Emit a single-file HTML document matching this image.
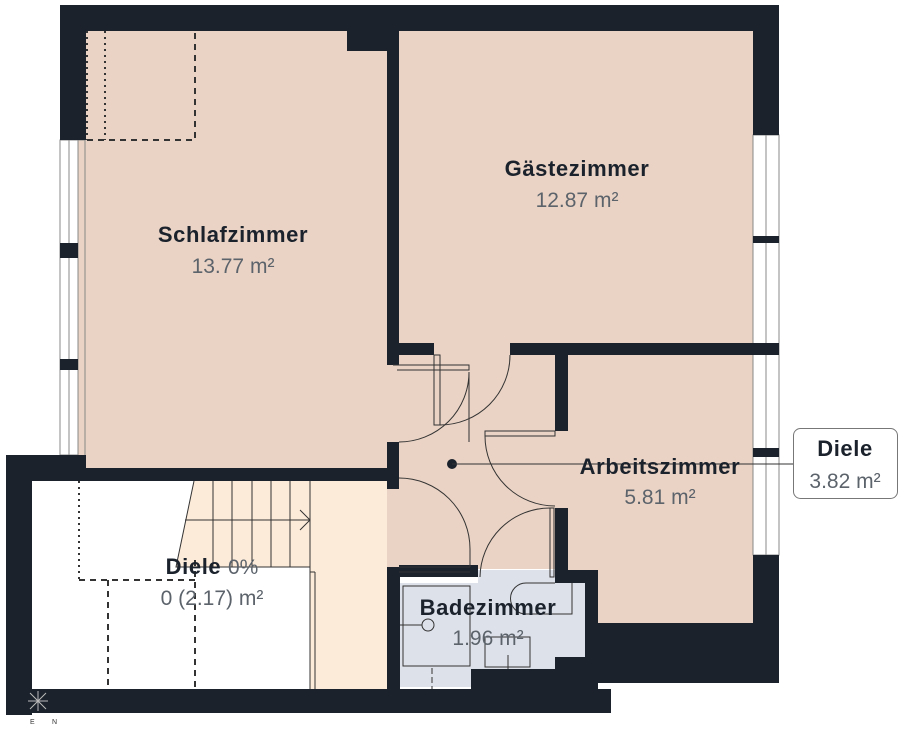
<!DOCTYPE html>
<html><head><meta charset="utf-8"><style>
html,body{margin:0;padding:0;background:#fff;}
svg{display:block}
.b{font-family:"Liberation Sans",sans-serif;font-weight:bold;font-size:22px;letter-spacing:0.6px;fill:#1b222c}
.n{font-family:"Liberation Sans",sans-serif;font-size:21px;fill:#5c636b}
</style></head><body>
<svg width="900" height="730" viewBox="0 0 900 730" xmlns="http://www.w3.org/2000/svg">
<!-- floors -->
<rect x="85" y="31" width="302" height="437" fill="#ead3c5"/>
<rect x="399" y="31" width="354" height="312" fill="#ead3c5"/>
<rect x="387" y="343" width="170" height="226" fill="#ead3c5"/>
<rect x="555" y="355" width="198" height="268" fill="#ead3c5"/>
<rect x="32" y="481" width="355" height="208" fill="#fff"/>
<rect x="310" y="481" width="77" height="208" fill="#fdebd9"/>
<polygon points="194,481 310,481 310,567 176,567" fill="#fdebd9"/>
<!-- bath -->
<rect x="478" y="570" width="77" height="99" fill="#dde1ea"/>
<rect x="400" y="583" width="80" height="104" fill="#dde1ea"/>
<rect x="555" y="583" width="30" height="74" fill="#dde1ea"/>
<!-- windows -->
<g fill="#fff" stroke="#888" stroke-width="1">
<rect x="60" y="140" width="9" height="315"/><rect x="69" y="140" width="9" height="315"/>
<rect x="753" y="135" width="13" height="420"/><rect x="766" y="135" width="13" height="420"/>
</g>
<rect x="78" y="140" width="7" height="325" fill="#ead3c5" stroke="#888" stroke-width="1"/>
<g fill="#1b222c">
<rect x="60" y="243" width="18" height="15"/><rect x="60" y="359" width="18" height="11"/>
<rect x="753" y="236" width="26" height="7"/><rect x="753" y="448" width="26" height="9"/>
<!-- walls -->
<rect x="60" y="5" width="719" height="26"/>
<rect x="60" y="5" width="26" height="135"/>
<rect x="753" y="5" width="26" height="130"/>
<rect x="347" y="31" width="40" height="20"/>
<rect x="387" y="31" width="12" height="334"/>
<rect x="387" y="442" width="12" height="47"/>
<rect x="387" y="567" width="13" height="122"/>
<rect x="399" y="343" width="35" height="12"/>
<rect x="510" y="343" width="269" height="12"/>
<rect x="555" y="355" width="13" height="76"/>
<rect x="555" y="508" width="13" height="62"/>
<rect x="555" y="570" width="43" height="13"/>
<rect x="585" y="570" width="13" height="117"/>
<rect x="598" y="623" width="181" height="60"/>
<rect x="753" y="555" width="26" height="70"/>
<rect x="399" y="565" width="79" height="12"/>
<rect x="6" y="455" width="26" height="260"/>
<rect x="6" y="455" width="80" height="26"/>
<rect x="85" y="468" width="314" height="13"/>
<rect x="6" y="689" width="605" height="24"/>
<rect x="471" y="669" width="127" height="20"/>
<rect x="555" y="657" width="43" height="14"/>
</g>
<!-- dashed areas -->
<g fill="none" stroke="#333" stroke-width="2">
<path d="M105 31V140M87 31V140" stroke-dasharray="2,4"/>
<path d="M87 140H195V31" stroke-dasharray="6,5"/>
<path d="M79 481V580" stroke-dasharray="2,4"/>
<path d="M79 580H195M108 580V689M195 560V689" stroke-dasharray="6,5"/>
</g>
<!-- stairs -->
<g stroke="#333" stroke-width="1" fill="none">
<path d="M194 481L176 567H310V689M315 572V689M310 572H315"/>
<path d="M213 481V567M232 481V567M252 481V567M271 481V567M290 481V567M310 481V567"/>
<path d="M185 520H310M300 510L310 520L300 530"/>
</g>
<!-- doors -->
<g stroke="#333" stroke-width="1" fill="none">
<path d="M399 442A70 70 0 0 0 469 372V442"/>
<path d="M393 365H469V370H397"/>
<rect x="434" y="355" width="6" height="70"/>
<path d="M510 355A70 70 0 0 1 440 425"/>
<rect x="485" y="431" width="70" height="5"/>
<path d="M485 436A70 70 0 0 0 555 506"/>
<path d="M399 478A71 71 0 0 1 470 549V567"/>
<path d="M399 567H470M399 572H470"/>
<path d="M480 577A70 70 0 0 1 550 508"/>
<rect x="550" y="508" width="4" height="69"/>
<!-- bath fixtures -->
<rect x="403" y="586" width="67" height="80"/>
<path d="M400 625H422"/><circle cx="428" cy="625" r="6"/>
<path d="M555 583H526A15 15 0 0 0 526 614H572V583"/>
<rect x="485" y="637" width="45" height="30"/><path d="M508 655V669"/>
<path d="M432 668V689" stroke-dasharray="6,3"/>
</g>
<!-- callout line -->
<circle cx="452" cy="464" r="5" fill="#1b222c"/>
<path d="M452 464H793" stroke="#333" stroke-width="1"/>
<rect x="793.5" y="428.5" width="104" height="70" rx="7" fill="#fff" stroke="#777"/>
<!-- labels -->
<text class="b" x="233" y="242" text-anchor="middle">Schlafzimmer</text>
<text class="n" x="233" y="273" text-anchor="middle">13.77 m²</text>
<text class="b" x="577" y="176" text-anchor="middle">Gästezimmer</text>
<text class="n" x="577" y="207" text-anchor="middle">12.87 m²</text>
<text class="b" x="660" y="474" text-anchor="middle">Arbeitszimmer</text>
<text class="n" x="660" y="504" text-anchor="middle">5.81 m²</text>
<text x="212" y="574" text-anchor="middle"><tspan class="b">Diele </tspan><tspan class="n">0%</tspan></text>
<text class="n" x="212" y="605" text-anchor="middle">0 (2.17) m²</text>
<text class="b" x="488" y="615" text-anchor="middle">Badezimmer</text>
<text class="n" x="488" y="645" text-anchor="middle">1.96 m²</text>
<text class="b" x="845" y="456" text-anchor="middle">Diele</text>
<text class="n" x="845" y="488" text-anchor="middle">3.82 m²</text>
<!-- compass -->
<g stroke="#bbb" stroke-width="1"><path d="M30 693L46 709M46 693L30 709M38 691V711M28 701H48"/></g>
<text x="30" y="724" font-family="Liberation Sans" font-size="7" fill="#333">E</text>
<text x="52" y="724" font-family="Liberation Sans" font-size="7" fill="#333">N</text>
</svg>
</body></html>
